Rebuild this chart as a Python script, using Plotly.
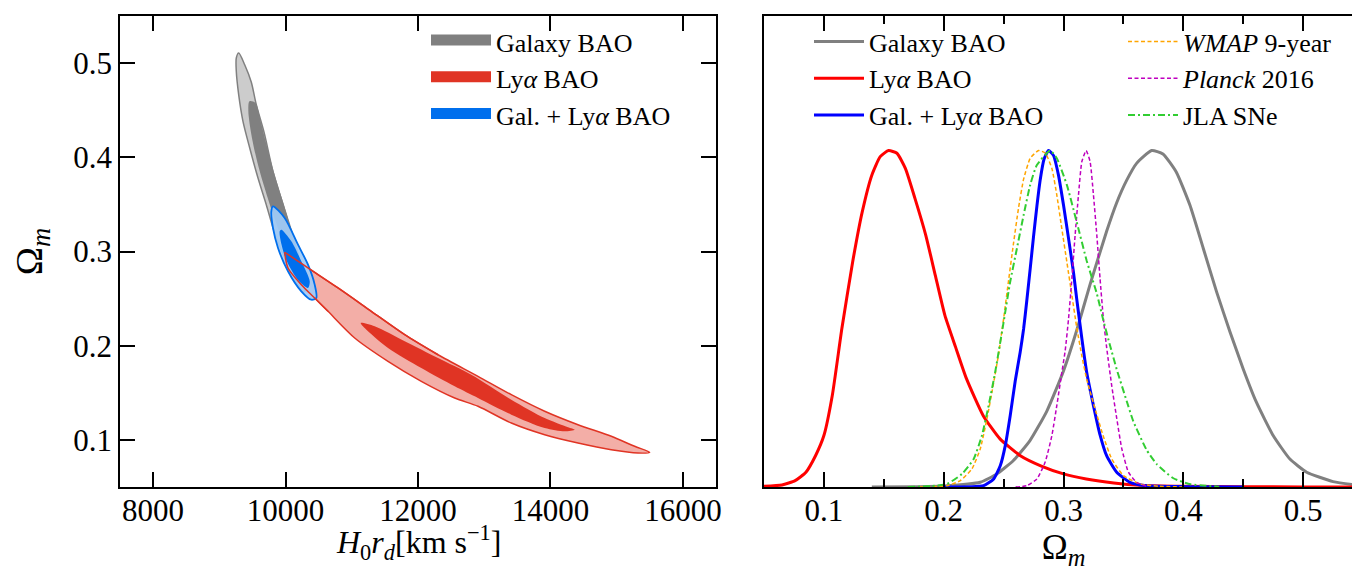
import plotly.graph_objects as go

# ---------------- Left panel: 2D contours (H0 rd [km/s], Omega_m) ----------------
gal_outer_h0rd = [9292, 9383, 9483, 9558, 9675, 9810, 9962, 10112, 10264, 10313, 10279,
                  10188, 10037, 9860, 9709, 9584, 9459, 9357, 9292, 9256, 9256]
gal_outer_om = [0.5107, 0.4983, 0.4797, 0.4558, 0.4266, 0.3851, 0.3497, 0.3143, 0.2790, 0.2631, 0.2570,
                0.2648, 0.2860, 0.3143, 0.3497, 0.3780, 0.4099, 0.4382, 0.4665, 0.4913, 0.5054]
gal_inner_h0rd = [9455, 9548, 9624, 9725, 9850, 9976, 10103, 10202, 10268, 10273,
                  10158, 10047, 9921, 9796, 9669, 9570, 9484, 9438]
gal_inner_om = [0.4595, 0.4576, 0.4382, 0.4099, 0.3780, 0.3497, 0.3214, 0.2966, 0.2754, 0.2666,
                0.2719, 0.2931, 0.3178, 0.3427, 0.3709, 0.3958, 0.4240, 0.4488]

lya_outer_h0rd = [9987, 10339, 10792, 11295, 11799, 12302, 12906, 13409, 13913, 14416, 14919, 15272, 15499,
                  15322, 14919, 14416, 13913, 13409, 12906, 12554, 12050, 11547, 11044, 10641, 10440, 10238, 10037]
lya_outer_om = [0.2992, 0.2825, 0.2613, 0.2365, 0.2117, 0.1904, 0.1675, 0.1480, 0.1304, 0.1161, 0.1038, 0.0932, 0.0868,
                0.0861, 0.0896, 0.0967, 0.1055, 0.1179, 0.1357, 0.1445, 0.1622, 0.1834, 0.2082, 0.2365, 0.2506, 0.2648, 0.2825]
lya_inner_h0rd = [11135, 11346, 11799, 12302, 12805, 13409, 13913, 14265, 14366,
                  14215, 13913, 13409, 12906, 12554, 12050, 11547, 11195]
lya_inner_om = [0.2241, 0.2206, 0.2047, 0.1869, 0.1692, 0.1427, 0.1232, 0.1134, 0.1108,
                0.1091, 0.1126, 0.1268, 0.1445, 0.1569, 0.1763, 0.1976, 0.2188]

comb_outer_h0rd = [9810, 9987, 10188, 10339, 10440, 10464, 10389, 10238, 10037, 9886, 9810, 9785]
comb_outer_om = [0.348, 0.3356, 0.3072, 0.286, 0.2648, 0.2506, 0.2488, 0.2577, 0.279, 0.3037, 0.325, 0.3427]
comb_inner_h0rd = [9936, 10087, 10238, 10365, 10339, 10188, 10011, 9924, 9912]
comb_inner_om = [0.3231, 0.3108, 0.2896, 0.2684, 0.2613, 0.2697, 0.291, 0.3122, 0.3214]

h0rd_ticks = [8000, 10000, 12000, 14000, 16000]
om_ticks_left = [0.1, 0.2, 0.3, 0.4, 0.5]

# ---------------- Right panel: 1D posteriors of Omega_m ----------------
gal_om = [0.14, 0.18, 0.20, 0.2305, 0.244, 0.258, 0.272, 0.286, 0.300, 0.311, 0.322, 0.336, 0.3444, 0.3528,
          0.361, 0.3736, 0.383, 0.394, 0.4055, 0.4167, 0.4278, 0.439, 0.45, 0.461, 0.475, 0.489, 0.503, 0.525, 0.544, 0.55]
gal_p = [0.0, 0.001, 0.003, 0.014, 0.038, 0.078, 0.138, 0.225, 0.345, 0.465, 0.6, 0.76, 0.845, 0.912,
         0.962, 1.0, 0.99, 0.937, 0.838, 0.709, 0.580, 0.461, 0.351, 0.252, 0.153, 0.083, 0.044, 0.016, 0.006, 0.004]

lya_om = [0.05, 0.065, 0.076, 0.085, 0.093, 0.100, 0.107, 0.115, 0.124, 0.132, 0.140, 0.147, 0.154, 0.161,
          0.168, 0.176, 0.185, 0.193, 0.201, 0.210, 0.219, 0.233, 0.247, 0.264, 0.281, 0.300, 0.319, 0.342,
          0.364, 0.40, 0.45, 0.50, 0.55]
lya_p = [0.002, 0.006, 0.019, 0.044, 0.093, 0.153, 0.272, 0.471, 0.669, 0.818, 0.927, 0.982, 1.0, 0.992,
         0.947, 0.858, 0.749, 0.629, 0.510, 0.415, 0.322, 0.212, 0.143, 0.093, 0.063, 0.039, 0.024, 0.012,
         0.005, 0.002, 0.001, 0.0, 0.0]

comb_om = [0.20, 0.2333, 0.2417, 0.2472, 0.2514, 0.2555, 0.2597, 0.2638, 0.2667, 0.2694, 0.2722, 0.275,
           0.2778, 0.2805, 0.2838, 0.2875, 0.2917, 0.2958, 0.300, 0.3042, 0.3083, 0.311, 0.3139, 0.3167,
           0.3194, 0.325, 0.3305, 0.336, 0.3444, 0.3555, 0.369, 0.40, 0.45]
comb_p = [0.0, 0.004, 0.024, 0.063, 0.123, 0.212, 0.315, 0.40, 0.47, 0.555, 0.649, 0.745,
          0.835, 0.912, 0.975, 1.0, 0.985, 0.927, 0.838, 0.739, 0.639, 0.56, 0.48, 0.405,
          0.34, 0.242, 0.155, 0.093, 0.044, 0.014, 0.004, 0.001, 0.0]

wmap_om = [0.18, 0.2028, 0.2139, 0.2236, 0.2305, 0.2361, 0.2417, 0.2458, 0.25, 0.2542, 0.2583, 0.2625,
           0.2667, 0.2722, 0.2792, 0.2847, 0.2903, 0.2944, 0.2986, 0.3028, 0.307, 0.311, 0.3153, 0.3194,
           0.3278, 0.3333, 0.3403, 0.35, 0.3639, 0.38, 0.40]
wmap_p = [0.0, 0.004, 0.019, 0.054, 0.113, 0.203, 0.31, 0.395, 0.50, 0.615, 0.725, 0.83,
          0.915, 0.977, 1.0, 0.993, 0.947, 0.868, 0.768, 0.669, 0.570, 0.475, 0.39, 0.32,
          0.215, 0.15, 0.083, 0.034, 0.009, 0.002, 0.0]

planck_om = [0.26, 0.2694, 0.2778, 0.2847, 0.2903, 0.2944, 0.2986, 0.3014, 0.3042, 0.307, 0.3097, 0.3125,
             0.3153, 0.3189, 0.3222, 0.325, 0.3278, 0.3305, 0.3333, 0.336, 0.3403, 0.3444, 0.3486, 0.3542,
             0.361, 0.37]
planck_p = [0.0, 0.004, 0.024, 0.074, 0.153, 0.242, 0.34, 0.405, 0.50, 0.620, 0.749, 0.868,
            0.967, 1.0, 0.967, 0.868, 0.749, 0.620, 0.50, 0.415, 0.30, 0.205, 0.115, 0.044,
            0.014, 0.002]

jla_om = [0.17, 0.19, 0.2028, 0.2153, 0.225, 0.2319, 0.2375, 0.243, 0.2458, 0.25, 0.2555, 0.2611, 0.2667,
          0.2722, 0.2778, 0.2889, 0.2944, 0.3028, 0.311, 0.3194, 0.3278, 0.3333, 0.3389, 0.3444, 0.3528,
          0.3583, 0.3694, 0.3778, 0.3917, 0.406, 0.43]
jla_p = [0.0, 0.003, 0.009, 0.039, 0.083, 0.153, 0.242, 0.342, 0.40, 0.49, 0.610, 0.709, 0.808,
         0.898, 0.957, 1.0, 0.977, 0.898, 0.788, 0.672, 0.575, 0.495, 0.42, 0.35, 0.255,
         0.195, 0.11, 0.068, 0.026, 0.008, 0.001]

om_ticks_right = [0.1, 0.2, 0.3, 0.4, 0.5]

FONT = "Liberation Serif, Times New Roman, Times, serif"
GRAY_D, GRAY_L = "#808080", "#cccccc"
RED_D, RED_L = "#e03424", "#f3aea7"
BLUE_D, BLUE_L = "#006fed", "#9fcbf7"

W, H = 1360, 569
ML, MR, MT, MB = 112, 5, 8, 90
PW = W - ML - MR
PH = H - MT - MB


def px_x(p):
    return (p - ML) / PW


def px_y(p):
    return (H - MB - p) / PH


fig = go.Figure()


def closed(xs, ys):
    return list(xs) + [xs[0]], list(ys) + [ys[0]]


def region(xs, ys, fillc, linec, lw):
    cx, cy = closed(xs, ys)
    fig.add_trace(go.Scatter(x=cx, y=cy, mode="lines", fill="toself", fillcolor=fillc,
                             line=dict(color=linec, width=lw, shape="spline", smoothing=0.8),
                             showlegend=False, hoverinfo="skip", xaxis="x", yaxis="y"))


region(gal_outer_h0rd, gal_outer_om, GRAY_L, GRAY_D, 1.5)
region(gal_inner_h0rd, gal_inner_om, GRAY_D, GRAY_D, 0)
region(lya_outer_h0rd, lya_outer_om, RED_L, RED_D, 1.5)
region(lya_inner_h0rd, lya_inner_om, RED_D, RED_D, 0)
region(comb_outer_h0rd, comb_outer_om, "rgba(159,203,247,0.92)", BLUE_D, 1.8)
region(comb_inner_h0rd, comb_inner_om, BLUE_D, BLUE_D, 0)
# red outer boundary drawn again on top of the blue region
cx, cy = closed(lya_outer_h0rd, lya_outer_om)
fig.add_trace(go.Scatter(x=cx[:6], y=cy[:6], mode="lines",
                         line=dict(color=RED_D, width=1.5, shape="spline", smoothing=0.8),
                         showlegend=False, hoverinfo="skip"))
fig.add_trace(go.Scatter(x=cx[-5:], y=cy[-5:], mode="lines",
                         line=dict(color=RED_D, width=1.5, shape="spline", smoothing=0.8),
                         showlegend=False, hoverinfo="skip"))

# legend patches for left panel
for i, (name, c) in enumerate([("Galaxy BAO", GRAY_D), ("Ly<i>α</i> BAO", RED_D),
                               ("Gal. + Ly<i>α</i> BAO", BLUE_D)]):
    fig.add_trace(go.Scatter(x=[None], y=[None], mode="lines", fill="toself", fillcolor=c,
                             line=dict(color=c, width=10), name=name, legend="legend",
                             legendgroup="l%d" % i))

# right panel curves
curves = [
    (gal_om, gal_p, "Galaxy BAO", dict(color="#808080", width=3), "legend2"),
    (lya_om, lya_p, "Ly<i>α</i> BAO", dict(color="#ff0000", width=3), "legend2"),
    (comb_om, comb_p, "Gal. + Ly<i>α</i> BAO", dict(color="#0000ff", width=3), "legend2"),
    (wmap_om, wmap_p, "<i>WMAP</i> 9-year", dict(color="#ffa500", width=1.5, dash="4px,2.5px"), "legend3"),
    (planck_om, planck_p, "<i>Planck</i> 2016", dict(color="#bf00bf", width=1.5, dash="4px,2.5px"), "legend3"),
    (jla_om, jla_p, "JLA SNe", dict(color="#32cd32", width=2, dash="7px,3px,2px,3px"), "legend3"),
]
for i, (xs, ys, name, ln, lg) in enumerate(curves):
    ln = dict(ln, shape="spline", smoothing=0.5)
    fig.add_trace(go.Scatter(x=xs, y=ys, mode="lines", name=name, line=ln,
                             xaxis="x2", yaxis="y2", legend=lg, legendgroup="c%d" % i))

axis_common = dict(showgrid=False, zeroline=False, showline=True, linecolor="black", linewidth=1.5,
                   ticks="inside", ticklen=15, tickwidth=2, tickcolor="black",
                   tickfont=dict(family=FONT, size=31, color="black"))

leg_common = dict(xanchor="left", yanchor="top", bgcolor="rgba(0,0,0,0)",
                  font=dict(family=FONT, size=26, color="black"), tracegroupgap=0)

fig.update_layout(
    width=W, height=H,
    margin=dict(l=ML, r=MR, t=MT, b=MB, autoexpand=False),
    paper_bgcolor="white", plot_bgcolor="white",
    font=dict(family=FONT, color="black"),
    xaxis=dict(axis_common, domain=[0, 596 / PW], range=[7500, 16500], ticklabelstandoff=-5,
               tickvals=h0rd_ticks, ticktext=[str(v) for v in h0rd_ticks], mirror="ticks", anchor="y"),
    yaxis=dict(axis_common, domain=[0, 1], range=[0.05, 0.55],
               tickvals=om_ticks_left, ticktext=[str(v) for v in om_ticks_left], mirror="ticks", anchor="x",
               automargin=True,
               title=dict(text="Ω<sub><i>m</i></sub>", font=dict(family=FONT, size=38), standoff=30)),
    xaxis2=dict(axis_common, domain=[(756 - ML) / PW, 1], range=[0.05, 0.55], ticklabelstandoff=-5,
                tickvals=om_ticks_right, ticktext=[str(v) for v in om_ticks_right], mirror="ticks", anchor="y2",
                automargin=True,
                minor=dict(tickvals=[0.15, 0.25, 0.35, 0.45], ticks="inside", ticklen=8, tickwidth=1.5,
                           tickcolor="black"),
                title=dict(text="Ω<sub><i>m</i></sub>", font=dict(family=FONT, size=35), standoff=2)),
    yaxis2=dict(showgrid=False, zeroline=False, showline=True, linecolor="black", linewidth=1.5,
                domain=[0, 1], range=[0, 1.4], showticklabels=False,
                ticks="", mirror=True, anchor="x2"),
    legend=dict(leg_common, x=px_x(418), y=px_y(10), itemwidth=60),
    legend2=dict(leg_common, x=px_x(801), y=px_y(10), itemwidth=50),
    legend3=dict(leg_common, x=px_x(1115), y=px_y(10), itemwidth=50),
    annotations=[dict(text="<i>H</i><sub>0</sub><i>r</i><sub><i>d</i></sub>[km s<sup>−1</sup>]",
                      xref="paper", yref="paper", x=px_x(410), y=px_y(559),
                      xanchor="center", yanchor="bottom", showarrow=False,
                      font=dict(family=FONT, size=32, color="black"))],
)

fig.write_html("out.html")
